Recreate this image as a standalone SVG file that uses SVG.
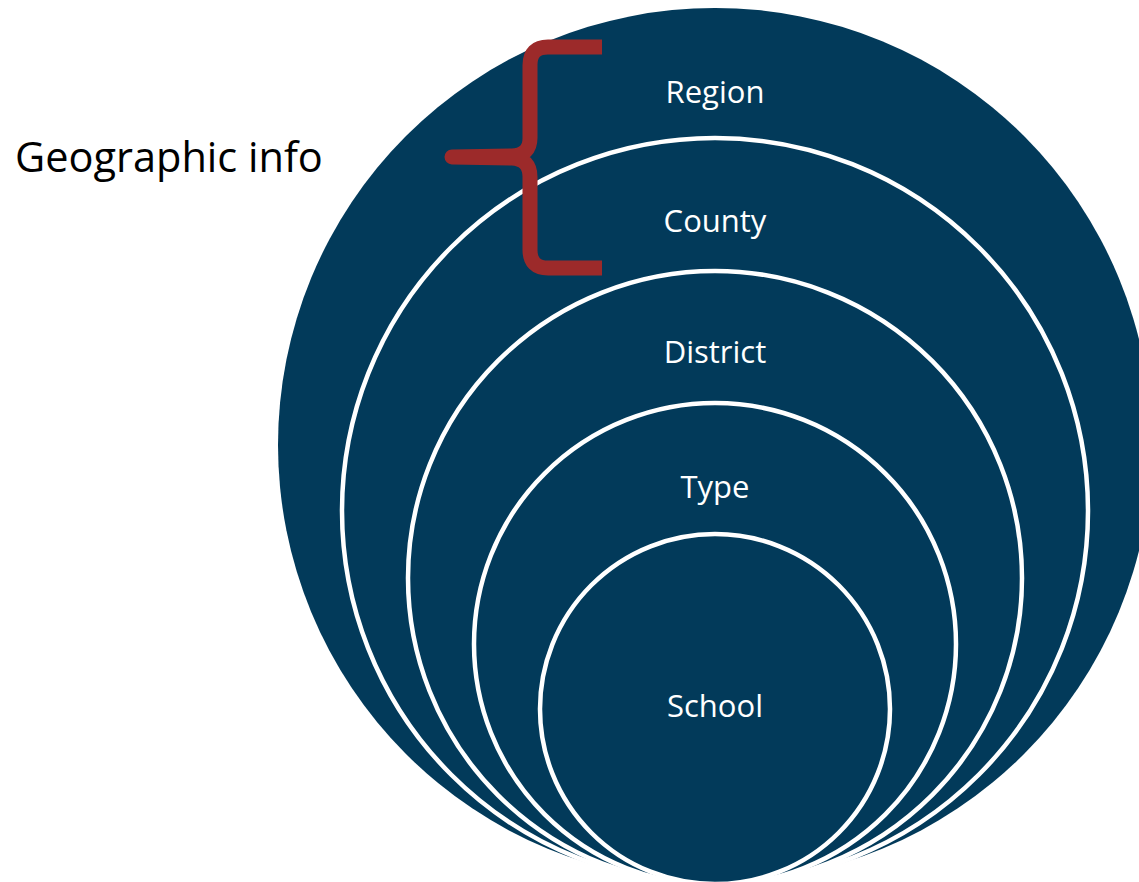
<svg xmlns="http://www.w3.org/2000/svg" width="1139" height="882" viewBox="0 0 1139 882">
  <style>
    .ring { fill: #023a5a; stroke: #ffffff; stroke-width: 4.5; }
    .lbl { font-family: "Open Sans", "Noto Sans", sans-serif; font-size: 31px; fill: #ffffff; text-anchor: middle; }
    .side { font-family: "Open Sans", "Noto Sans", sans-serif; font-size: 41.5px; fill: #000000; }
    .brace { fill: none; stroke: #9c2a2a; stroke-width: 15; stroke-linejoin: round; stroke-linecap: butt; }
  </style>
  <rect width="1139" height="882" fill="#ffffff"/>
  <g id="region">
    <circle cx="715" cy="445" r="437" fill="#023a5a"/>
    <text class="lbl" x="715" y="103">Region</text>
  </g>
  <g id="county">
    <circle class="ring" cx="715" cy="511" r="373"/>
    <text class="lbl" x="715" y="232">County</text>
  </g>
  <g id="district">
    <circle class="ring" cx="715" cy="578" r="307"/>
    <text class="lbl" x="715" y="363">District</text>
  </g>
  <g id="type">
    <circle class="ring" cx="715" cy="644" r="241"/>
    <text class="lbl" x="715" y="498">Type</text>
  </g>
  <g id="school">
    <circle class="ring" cx="715" cy="709" r="175"/>
    <text class="lbl" x="715" y="717">School</text>
  </g>
  <g id="geographic-info">
    <path class="brace" d="M 602 47 H 548 Q 530 47 530 65 V 138 Q 530 155 512 156 L 452 157 L 512 158 Q 530 159 530 177 V 250 Q 530 268 548 268 H 602"/>
    <text class="side" x="15" y="172">Geographic info</text>
  </g>
</svg>
